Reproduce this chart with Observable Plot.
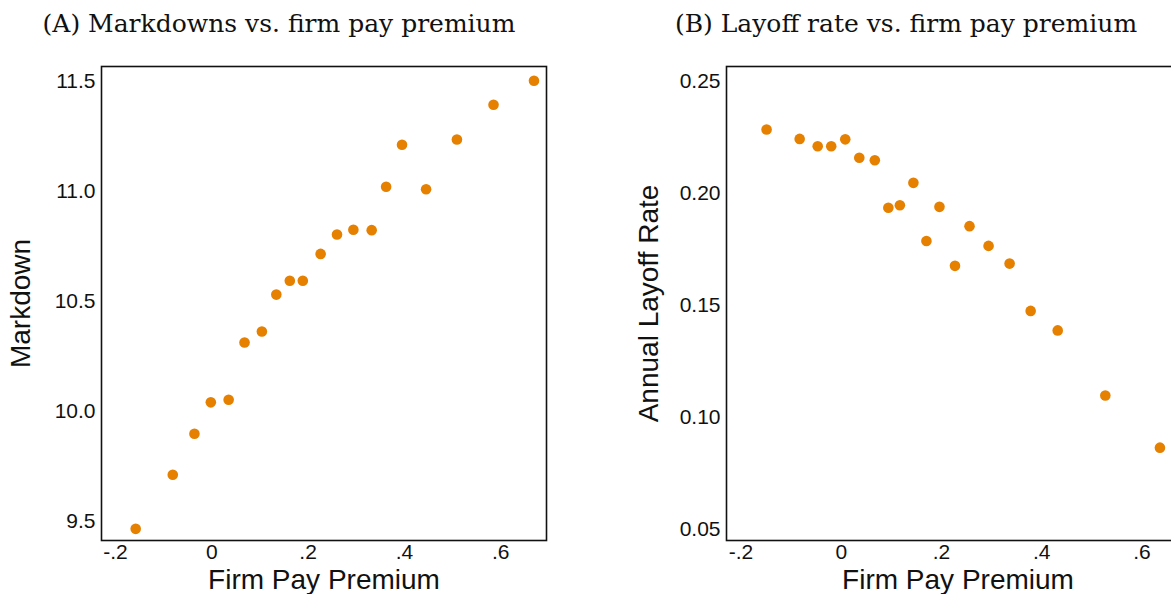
<!DOCTYPE html>
<html>
<head>
<meta charset="utf-8">
<script src="https://cdn.jsdelivr.net/npm/d3@7"></script>
<script src="https://cdn.jsdelivr.net/npm/@observablehq/plot@0.6"></script>
<style>
  body { margin: 0; background: #fff; }
  #wrap { position: relative; width: 1171px; height: 594px; overflow: hidden; background: #fff; }
  .title { position: absolute; top: 9px; font-family: "DejaVu Serif", serif; font-size: 25px; color: #111; white-space: nowrap; transform: translateX(-50%); }
  .panel { position: absolute; top: 50px; }
  .panel svg { overflow: visible; max-width: none !important; display: block; }
  [aria-label="x-axis label"], [aria-label="y-axis label"] { font-size: 28px; }
</style>
</head>
<body>
<div id="wrap">
  <div class="title" id="tA" style="left:279px">(A) Markdowns vs. firm pay premium</div>
  <div class="title" id="tB" style="left:906px">(B) Layoff rate vs. firm pay premium</div>
  <div class="panel" id="pA" style="left:0px; width:560px"></div>
  <div class="panel" id="pB" style="left:600px; width:600px"></div>
</div>
<script>
// Panel A: Markdown vs firm pay premium
const premiumA = [-0.158, -0.081, -0.036, -0.002, 0.035, 0.068, 0.104, 0.134, 0.162, 0.189,
                  0.226, 0.260, 0.294, 0.332, 0.362, 0.395, 0.445, 0.509, 0.585, 0.669];
const markdown = [9.465, 9.711, 9.897, 10.040, 10.052, 10.312, 10.362, 10.530, 10.593, 10.593,
                  10.715, 10.803, 10.825, 10.823, 11.020, 11.211, 11.009, 11.235, 11.393, 11.502];

// Panel B: Annual layoff rate vs firm pay premium
const premiumB = [-0.149, -0.083, -0.047, -0.020, 0.008, 0.036, 0.067, 0.094, 0.117, 0.144,
                  0.170, 0.196, 0.227, 0.256, 0.294, 0.336, 0.378, 0.432, 0.527, 0.636];
const layoffRate = [0.2285, 0.2243, 0.2210, 0.2210, 0.2241, 0.2159, 0.2148, 0.1936, 0.1947, 0.2047,
                    0.1788, 0.1940, 0.1677, 0.1854, 0.1766, 0.1687, 0.1476, 0.1389, 0.1099, 0.0866];

const xTicks = [-0.2, 0, 0.2, 0.4, 0.6];
const yTicksA = [9.5, 10, 10.5, 11, 11.5];
const yTicksB = [0.05, 0.10, 0.15, 0.20, 0.25];

const dotColor = "#e58000";
const fmtX = d => d === 0 ? "0" : (d < 0 ? "-" : "") + Math.abs(d).toFixed(1).replace(/^0/, "");

const dataA = premiumA.map((x, i) => ({x, y: markdown[i]}));
const dataB = premiumB.map((x, i) => ({x, y: layoffRate[i]}));

function panel(data, opts) {
  return Plot.plot({
    width: opts.width,
    height: 544,
    marginTop: 16,
    marginBottom: 54,
    marginLeft: opts.marginLeft,
    marginRight: opts.marginRight,
    style: {fontFamily: "'Liberation Sans', Arial, sans-serif", fontSize: "21px", color: "#111", background: "transparent"},
    x: {domain: [-0.229, 0.695], ticks: xTicks, tickFormat: fmtX, tickSize: 0, tickPadding: 4,
        label: "Firm Pay Premium", labelAnchor: "center", labelOffset: 48, labelArrow: "none"},
    y: {domain: opts.yDomain, ticks: opts.yTicks, tickFormat: opts.yFormat, tickSize: 0, tickPadding: 6,
        label: opts.yLabel, labelAnchor: "center", labelOffset: opts.labelOffset, labelArrow: "none"},
    marks: [
      Plot.frame({stroke: "#111", strokeWidth: 1.6}),
      Plot.dot(data, {x: "x", y: "y", r: 5.3, fill: dotColor, stroke: "none"})
    ]
  });
}

document.getElementById("pA").append(panel(dataA, {
  width: 560, marginLeft: 101, marginRight: 14,
  yDomain: [9.412, 11.567], yTicks: yTicksA, yFormat: d3.format(".1f"),
  yLabel: "Markdown", labelOffset: 91
}));
document.getElementById("pB").append(panel(dataB, {
  width: 600, marginLeft: 126, marginRight: 11,
  yDomain: [0.0452, 0.2566], yTicks: yTicksB, yFormat: d3.format(".2f"),
  yLabel: "Annual Layoff Rate", labelOffset: 88
}));
</script>
</body>
</html>
